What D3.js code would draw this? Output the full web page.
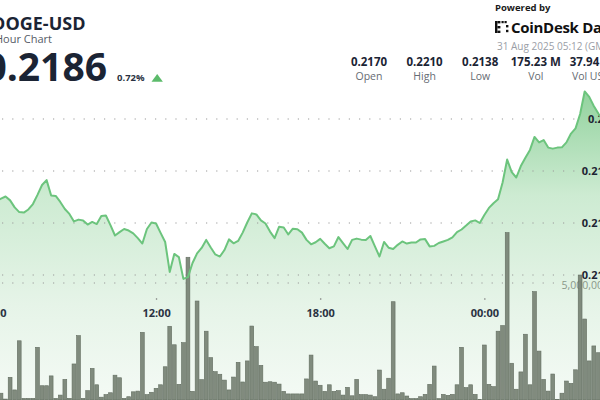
<!DOCTYPE html>
<html><head><meta charset="utf-8">
<script src="https://cdn.jsdelivr.net/npm/d3@7"></script>
<style>
html,body{margin:0;padding:0;background:#fff;overflow:hidden}
svg{display:block;font-family:"Open Sans",sans-serif}
</style></head><body>
<svg id="chart" width="600" height="400"></svg>
<script>
// ---- data ----
const priceStart = Date.UTC(2025, 7, 30, 6, 10);   // first price point (10-min steps)
const volumeStart = Date.UTC(2025, 7, 30, 6, 20);  // first volume bar (10-min steps)
const stepMs = 10 * 60 * 1000;
const priceValues = [
 0.21685,0.21694,0.21702,0.21687,0.21660,0.21642,0.21640,0.21652,0.21673,0.21708,
 0.21746,0.21765,0.21706,0.21704,0.21681,0.21654,0.21635,0.21606,0.21613,0.21610,
 0.21594,0.21604,0.21596,0.21627,0.21629,0.21592,0.21552,0.21565,0.21577,0.21571,
 0.21560,0.21542,0.21521,0.21577,0.21602,0.21598,0.21562,0.21527,0.21412,0.21481,
 0.21469,0.21385,0.21392,0.21446,0.21483,0.21504,0.21535,0.21506,0.21479,0.21471,
 0.21496,0.21537,0.21522,0.21531,0.21563,0.21602,0.21637,0.21633,0.21610,0.21598,
 0.21567,0.21542,0.21586,0.21583,0.21556,0.21578,0.21576,0.21563,0.21535,0.21518,
 0.21526,0.21539,0.21520,0.21503,0.21510,0.21546,0.21523,0.21500,0.21535,0.21540,
 0.21536,0.21535,0.21550,0.21510,0.21471,0.21527,0.21505,0.21500,0.21516,0.21529,
 0.21521,0.21525,0.21525,0.21537,0.21538,0.21510,0.21512,0.21523,0.21529,0.21535,
 0.21545,0.21565,0.21575,0.21590,0.21606,0.21610,0.21600,0.21631,0.21658,0.21676,
 0.21691,0.21756,0.21844,0.21796,0.21775,0.21819,0.21851,0.21881,0.21931,0.21910,
 0.21919,0.21890,0.21886,0.21890,0.21891,0.21910,0.21944,0.21964,0.22019,0.22106,
 0.22085,0.22050,0.22021,0.21996
];
const volumeMillions = [
 0.29,0.04,0.97,0.43,2.53,0.07,0.07,0.07,2.25,0.61,
 0.61,1.03,0.07,0.21,0.88,0.07,1.54,2.75,0.07,0.40,
 1.35,0.65,0.12,0.23,0.31,1.06,0.95,0.07,0.14,0.35,
 0.38,2.89,0.23,0.33,0.50,0.65,1.42,3.15,2.36,0.67,
 2.45,6.10,0.37,4.23,0.87,2.94,1.81,1.21,1.10,0.85,
 0.43,0.98,1.61,0.77,1.67,3.16,2.28,1.48,0.76,0.78,
 0.76,0.68,0.37,0.26,0.26,0.26,0.26,0.90,1.92,0.81,
 0.63,0.37,0.65,0.37,0.40,0.21,0.54,0.18,0.88,0.23,
 0.23,0.21,0.14,1.28,0.46,0.93,4.20,0.26,0.31,0.17,
 0.06,0.06,0.14,0.24,0.67,1.45,0.06,0.24,0.20,0.24,
 0.65,2.25,0.53,0.65,0.24,0.02,2.35,0.67,0.57,2.94,
 3.18,7.15,1.57,0.46,1.20,2.81,0.65,4.63,2.09,0.88,
 0.38,1.11,0.02,0.29,0.81,0.71,1.29,5.34,3.46,1.67,
 2.31,2.02
];
const priceTicks = [0.214, 0.216, 0.218, 0.22];
const volumeTicks = [5];
const timeTicks = [Date.UTC(2025,7,30,6,0), Date.UTC(2025,7,30,12,0), Date.UTC(2025,7,30,18,0), Date.UTC(2025,7,31,0,0)];
const statValues = ["0.2170", "0.2210", "0.2138", "175.23 M", "37.94 M"];
const statLabels = ["Open", "High", "Low", "Vol", "Vol USD"];

// ---- build ----
const priceData = priceValues.map((v, i) => ({t: new Date(priceStart + i * stepMs), v}));
const volData = volumeMillions.map((v, i) => ({t: new Date(volumeStart + i * stepMs), v}));

const svg = d3.select("#chart");
const x = d3.scaleUtc()
  .domain([new Date(volumeStart), new Date(volumeStart + 131 * stepMs)])
  .range([1, 598.36]);
const yP = d3.scaleLinear().domain([0.214, 0.22]).range([275, 119]);
const yV = d3.scaleLinear().domain([0, 5]).range([400, 283]);

const defs = svg.append("defs");
const grad = defs.append("linearGradient").attr("id", "areaGrad")
  .attr("gradientUnits", "userSpaceOnUse").attr("x1", 0).attr("x2", 0).attr("y1", 85).attr("y2", 400);
grad.append("stop").attr("offset", "0").attr("stop-color", "#8fd19b");
grad.append("stop").attr("offset", "0.35").attr("stop-color", "#cdebd2");
grad.append("stop").attr("offset", "0.7").attr("stop-color", "#e6f4e8");
grad.append("stop").attr("offset", "1").attr("stop-color", "#f4faf5");

// area
svg.append("path").datum(priceData)
  .attr("fill", "url(#areaGrad)")
  .attr("d", d3.area().x(d => x(d.t)).y0(400).y1(d => yP(d.v)));

// grid lines
svg.append("g").selectAll("line").data(priceTicks).join("line")
  .attr("x1", 2).attr("x2", 580)
  .attr("y1", d => yP(d)).attr("y2", d => yP(d))
  .attr("stroke", "#9a9a9a").attr("stroke-width", 1.2)
  .attr("stroke-dasharray", "1.2 9");
svg.append("g").selectAll("line").data(volumeTicks).join("line")
  .attr("x1", 2).attr("x2", 560)
  .attr("y1", d => yV(d)).attr("y2", d => yV(d))
  .attr("stroke", "#9a9a9a").attr("stroke-width", 1.2)
  .attr("stroke-dasharray", "1.2 9");

// axis labels (right, clipped by window as in the reference)
const yAxis = d3.axisLeft(yP).tickValues(priceTicks).tickSize(0).tickFormat(d3.format(""));
const gy = svg.append("g").attr("transform", "translate(610,0)").call(yAxis);
gy.select(".domain").remove();
gy.selectAll("text").attr("font-family", "Open Sans").attr("font-size", 11)
  .attr("font-weight", 700).attr("fill", "#1d2433").attr("x", 0).attr("dy", "0.35em");

const vAxis = d3.axisLeft(yV).tickValues(volumeTicks).tickSize(0).tickFormat(d => d3.format(",")(d * 1e6));
const gv = svg.append("g").attr("transform", "translate(609,2)").call(vAxis);
gv.select(".domain").remove();
gv.selectAll("text").attr("font-family", "Open Sans").attr("font-size", 10.5)
  .attr("fill", "#8a988a").attr("x", 0).attr("dy", "0.35em");

// x axis
const xAxis = d3.axisBottom(x).tickValues(timeTicks.map(t => new Date(t))).tickSize(0)
  .tickFormat(d3.utcFormat("%H:%M"));
const gx = svg.append("g").attr("transform", "translate(0,304)").call(xAxis);
gx.select(".domain").remove();
gx.selectAll("text").attr("font-family", "Open Sans").attr("font-size", 11)
  .attr("font-weight", 700).attr("fill", "#2a3242").attr("dy", "0.9em");
gx.selectAll(".tick").append("circle").attr("cy", -5).attr("r", 0.8).attr("fill", "#777");

// volume bars
svg.append("g").selectAll("rect").data(volData).join("rect")
  .attr("x", d => x(d.t) - 1.9).attr("width", 3.8)
  .attr("y", d => yV(d.v)).attr("height", d => 400 - yV(d.v))
  .attr("fill", "#7b8678").attr("stroke", "#5b6659").attr("stroke-width", 0.6)
  .attr("opacity", 0.95);

// price line
svg.append("path").datum(priceData)
  .attr("fill", "none").attr("stroke", "#6cc47d").attr("stroke-width", 2)
  .attr("stroke-linejoin", "round")
  .attr("d", d3.line().x(d => x(d.t)).y(d => yP(d.v)));

// ---- header ----
const hdr = svg.append("g").attr("font-family", "Open Sans");
hdr.append("text").attr("x", 85.5).attr("y", 30).attr("text-anchor", "end")
  .attr("font-size", 18).attr("font-weight", 700).attr("fill", "#1b2434").text("DOGE-USD");
hdr.append("text").attr("x", 52).attr("y", 42.5).attr("text-anchor", "end")
  .attr("font-size", 11).attr("fill", "#555b66").text("24 Hour Chart");
hdr.append("text").attr("x", 107).attr("y", 81).attr("text-anchor", "end")
  .attr("font-size", 39).attr("font-weight", 700).attr("fill", "#1b2434").text("0.2186");
hdr.append("text").attr("x", 117).attr("y", 80.7)
  .attr("font-size", 9.5).attr("font-weight", 700).attr("fill", "#2a3242").text("0.72%");
hdr.append("path").attr("d", "M151.5,81.7 L157.2,74 L162.9,81.7 Z").attr("fill", "#5cbb6b");

hdr.append("text").attr("x", 495).attr("y", 10.5)
  .attr("font-size", 9.5).attr("font-weight", 700).attr("fill", "#1b1b1b").text("Powered by");
// logo mark
const logo = hdr.append("g").attr("fill", "#111");
[[495,21,2.4,12],[497.4,21,3,2.4],[497.4,26,3,2.4],[497.4,30.6,3,2.4],[501.5,21,2.2,2.2],[504.5,21,2.2,2.2],
 [506,25,2.4,2.4],[506,29.8,2.4,2.4]].forEach(r => logo.append("rect")
  .attr("x", r[0]).attr("y", r[1]).attr("width", r[2]).attr("height", r[3]));
hdr.append("text").attr("x", 511).attr("y", 32.5)
  .attr("font-size", 15).attr("font-weight", 700).attr("letter-spacing", -0.3).attr("fill", "#111").text("CoinDesk Data");
hdr.append("text").attr("x", 497).attr("y", 50)
  .attr("font-size", 10).attr("fill", "#9a9ea6").text("31 Aug 2025 05:12 (GMT)");

const statX = d3.scalePoint().domain(statLabels).range([369, 591.4]);
hdr.append("g").selectAll("text").data(statValues).join("text")
  .attr("x", (d, i) => statX(statLabels[i])).attr("y", 66).attr("text-anchor", "middle")
  .attr("font-size", 11.5).attr("font-weight", 700).attr("fill", "#1b2434").text(d => d);
hdr.append("g").selectAll("text").data(statLabels).join("text")
  .attr("x", d => statX(d)).attr("y", 80).attr("text-anchor", "middle")
  .attr("font-size", 10.5).attr("fill", "#666b73").text(d => d);
</script>
</body></html>
